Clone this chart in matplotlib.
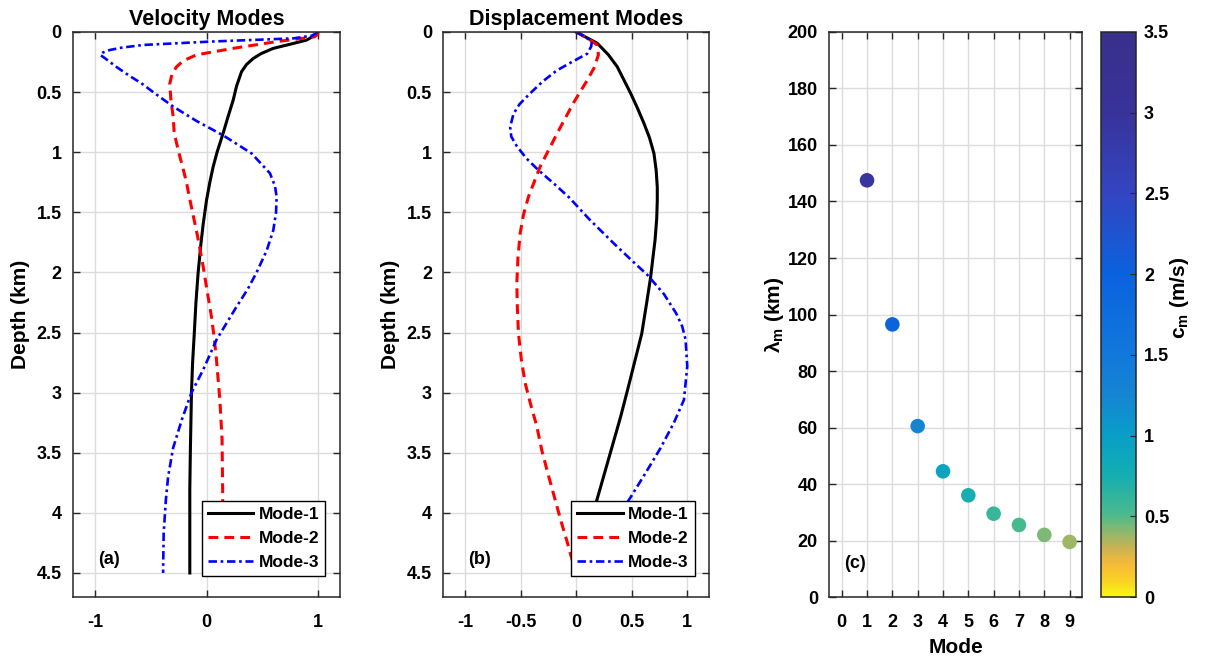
import matplotlib
matplotlib.use("Agg")
import matplotlib.pyplot as plt
import numpy as np
from matplotlib.colors import LinearSegmentedColormap
from matplotlib.ticker import FuncFormatter

plt.rcParams["font.family"] = ["Liberation Sans", "DejaVu Sans"]
plt.rcParams["font.weight"] = "bold"
plt.rcParams["mathtext.fontset"] = "custom"
plt.rcParams["mathtext.rm"] = "Liberation Sans"
plt.rcParams["mathtext.it"] = "Liberation Sans:italic"
plt.rcParams["mathtext.default"] = "regular"

# ---------------- data ----------------
# (a) velocity modes: depth (km) / normalised amplitude
vel1_z = [0, 0.03, 0.067, 0.10, 0.136, 0.18, 0.22, 0.27, 0.33, 0.45, 0.566, 0.70,
          0.84, 1.0, 1.12, 1.25, 1.40, 1.6, 1.76, 2.0, 2.25, 2.51, 2.75, 3.0, 3.48, 3.8, 4.5]
vel1_v = [1.0, 0.97, 0.90, 0.76, 0.60, 0.49, 0.42, 0.36, 0.315, 0.27, 0.24, 0.195,
          0.15, 0.095, 0.06, 0.03, 0.0, -0.03, -0.05, -0.075, -0.095, -0.11, -0.125,
          -0.135, -0.145, -0.15, -0.15]
vel2_z = [0, 0.02, 0.04, 0.08, 0.136, 0.19, 0.24, 0.29, 0.35, 0.43, 0.566, 0.70, 0.84,
          1.0, 1.12, 1.25, 1.37, 1.48, 1.7, 1.95, 2.15, 2.37, 2.55, 2.73, 3.06, 3.39,
          3.81, 4.5]
vel2_v = [1.0, 1.0, 0.97, 0.63, 0.24, -0.09, -0.21, -0.27, -0.31, -0.33, -0.32, -0.30,
          -0.29, -0.25, -0.215, -0.18, -0.155, -0.13, -0.08, -0.03, 0.005, 0.045,
          0.07, 0.09, 0.12, 0.14, 0.145, 0.15]
vel3_z = [0, 0.03, 0.053, 0.08, 0.108, 0.13, 0.15, 0.17, 0.19, 0.22, 0.29, 0.36, 0.43,
          0.52, 0.62, 0.74, 0.86, 1.01, 1.175, 1.28, 1.37, 1.5, 1.65, 1.82, 2.0, 2.14,
          2.285, 2.56, 2.81, 3.0, 3.22, 3.46, 3.7, 3.89, 4.17, 4.5]
vel3_v = [1.0, 0.95, 0.78, 0.03, -0.57, -0.76, -0.87, -0.93, -0.955, -0.91, -0.81,
          -0.70, -0.58, -0.45, -0.30, -0.09, 0.15, 0.405, 0.57, 0.615, 0.63, 0.625,
          0.60, 0.54, 0.45, 0.37, 0.27, 0.09, -0.03, -0.135, -0.22, -0.30, -0.345,
          -0.365, -0.385, -0.39]

# (b) displacement modes
dis1_z = [0, 0.094, 0.19, 0.29, 0.40, 0.51, 0.63, 0.76, 0.88, 1.01, 1.15, 1.29, 1.40,
          1.55, 1.73, 2.04, 2.25, 2.51, 2.73, 2.95, 3.2, 3.46, 3.88, 4.2, 4.5]
dis1_v = [0, 0.19, 0.29, 0.37, 0.43, 0.49, 0.55, 0.61, 0.66, 0.70, 0.72, 0.73, 0.73,
          0.725, 0.71, 0.67, 0.635, 0.59, 0.53, 0.47, 0.40, 0.32, 0.19, 0.09, 0.0]
dis2_z = [0, 0.05, 0.108, 0.19, 0.30, 0.40, 0.59, 0.84, 1.12, 1.37, 1.52, 1.675, 1.88,
          2.09, 2.3, 2.51, 2.72, 2.92, 3.1, 3.28, 3.48, 3.69, 3.89, 4.06, 4.23, 4.38, 4.5]
dis2_v = [0, 0.10, 0.19, 0.20, 0.16, 0.10, -0.025, -0.17, -0.325, -0.43, -0.475,
          -0.505, -0.525, -0.535, -0.53, -0.52, -0.495, -0.46, -0.41, -0.355, -0.31,
          -0.25, -0.19, -0.14, -0.085, -0.04, 0.0]
dis3_z = [0, 0.04, 0.08, 0.12, 0.18, 0.25, 0.32, 0.41, 0.51, 0.60, 0.68, 0.79, 0.87,
          0.95, 1.05, 1.15, 1.27, 1.38, 1.56, 1.76, 1.9, 2.02, 2.18, 2.34, 2.45, 2.56,
          2.78, 3.06, 3.25, 3.46, 3.66, 3.87, 4.1, 4.3, 4.5]
dis3_v = [0, 0.08, 0.14, 0.135, 0.10, -0.04, -0.175, -0.30, -0.415, -0.51, -0.565,
          -0.595, -0.585, -0.535, -0.45, -0.34, -0.19, -0.06, 0.12, 0.34, 0.50, 0.64,
          0.79, 0.90, 0.955, 0.985, 1.0, 0.97, 0.88, 0.76, 0.63, 0.49, 0.33, 0.17, 0.0]

# (c) wavelength and phase speed per mode
modes = [1, 2, 3, 4, 5, 6, 7, 8, 9]
lam_km = [147.5, 96.5, 60.5, 44.5, 36.0, 29.5, 25.5, 22.0, 19.5]
c_ms = [2.95, 1.95, 1.25, 0.92, 0.75, 0.60, 0.52, 0.43, 0.38]

labels = ["Mode-1", "Mode-2", "Mode-3"]

# colour bar (0 -> 3.5 m/s)
cb_pos = [0, 0.1, 0.2, 0.3, 0.4, 0.5, 0.75, 1.0, 1.25, 1.5, 2.0, 2.5, 3.0, 3.5]
cb_col = ["#f9f712", "#f9d026", "#f5ba38", "#c8b254", "#8cb86c", "#4cba8c",
          "#14aeb2", "#089ec8", "#1585d2", "#1278dc", "#0a62de", "#3345c2",
          "#38339a", "#38308a"]
cmap = LinearSegmentedColormap.from_list(
    "cm", [(p / 3.5, c) for p, c in zip(cb_pos, cb_col)])

GRID = "#dcdcdc"
TICK = 13
LAB = 15
fmt = FuncFormatter(lambda v, p: f"{v:g}")


def estilo(ax):
    ax.grid(True, color=GRID, linewidth=1.0)
    ax.set_axisbelow(True)
    ax.tick_params(direction="in", top=True, right=True, length=5, width=1.0,
                   labelsize=TICK, color="#262626")
    ax.tick_params(axis="x", pad=12)
    ax.tick_params(axis="y", pad=8)
    for sp in ax.spines.values():
        sp.set_linewidth(1.1)
        sp.set_color("#262626")
    ax.xaxis.set_major_formatter(fmt)
    ax.yaxis.set_major_formatter(fmt)


def perfis(ax, curvas, xticks, titulo, letra):
    kw = [dict(color="black", linestyle="-", linewidth=2.2),
          dict(color="red", linestyle=(0, (3.2, 2.0)), linewidth=2.2),
          dict(color="blue", linestyle=(0, (3.2, 1.4, 1.0, 1.4)), linewidth=1.9)]
    for (z, v), k, lb in zip(curvas, kw, labels):
        ax.plot(v, z, label=lb, **k)
    ax.set_xlim(-1.2, 1.2)
    ax.set_ylim(4.7, 0)
    ax.set_xticks(xticks)
    ax.set_yticks(np.arange(0, 4.51, 0.5))
    ax.set_ylabel("Depth (km)", fontsize=LAB, fontweight="bold", labelpad=5)
    ax.set_title(titulo, fontsize=15.5, fontweight="bold", pad=5)
    estilo(ax)
    ax.text(-0.97, 4.39, letra, fontsize=13, fontweight="bold", va="center")
    leg = ax.legend(loc="lower right", bbox_to_anchor=(0.944, 0.037),
                    borderaxespad=0, fancybox=False, framealpha=1,
                    edgecolor="black", fontsize=12.5, handlelength=2.6,
                    handletextpad=0.3, labelspacing=0.5, borderpad=0.35)
    leg.get_frame().set_linewidth(1.0)


fig = plt.figure(figsize=(12.14, 6.61), dpi=100)

ax1 = fig.add_axes([0.0601, 0.0968, 0.2200, 0.8548])
perfis(ax1, [(vel1_z, vel1_v), (vel2_z, vel2_v), (vel3_z, vel3_v)],
       [-1, 0, 1], "Velocity Modes", "(a)")

ax2 = fig.add_axes([0.3649, 0.0968, 0.2195, 0.8548])
perfis(ax2, [(dis1_z, dis1_v), (dis2_z, dis2_v), (dis3_z, dis3_v)],
       [-1, -0.5, 0, 0.5, 1], "Displacement Modes", "(b)")

ax3 = fig.add_axes([0.6829, 0.0968, 0.2086, 0.8548])
sc = ax3.scatter(modes, lam_km, c=c_ms, cmap=cmap, vmin=0, vmax=3.5, s=110,
                 edgecolors="none", zorder=3)
ax3.set_xlim(-0.5, 9.5)
ax3.set_ylim(0, 200)
ax3.set_xticks(range(10))
ax3.set_yticks(range(0, 201, 20))
ax3.set_xlabel("Mode", fontsize=LAB, fontweight="bold", labelpad=5)
ax3.set_ylabel(r"$\lambda_m$ (km)", fontsize=LAB, fontweight="bold", labelpad=1)
estilo(ax3)
ax3.text(0.08, 12, "(c)", fontsize=13, fontweight="bold", va="center")

cax = fig.add_axes([0.9069, 0.0968, 0.0285, 0.8548])
cb = fig.colorbar(sc, cax=cax)
cb.set_ticks(np.arange(0, 3.51, 0.5))
cb.ax.yaxis.set_major_formatter(fmt)
cb.ax.tick_params(direction="in", length=4, labelsize=TICK, color="#262626", pad=6)
cb.outline.set_linewidth(1.1)
cb.outline.set_edgecolor("#262626")
cb.set_label(r"c$_m$ (m/s)", fontsize=LAB, fontweight="bold")
cb.ax.yaxis.set_label_coords(1.93, 0.53)

fig.savefig("out.png", dpi=100)
